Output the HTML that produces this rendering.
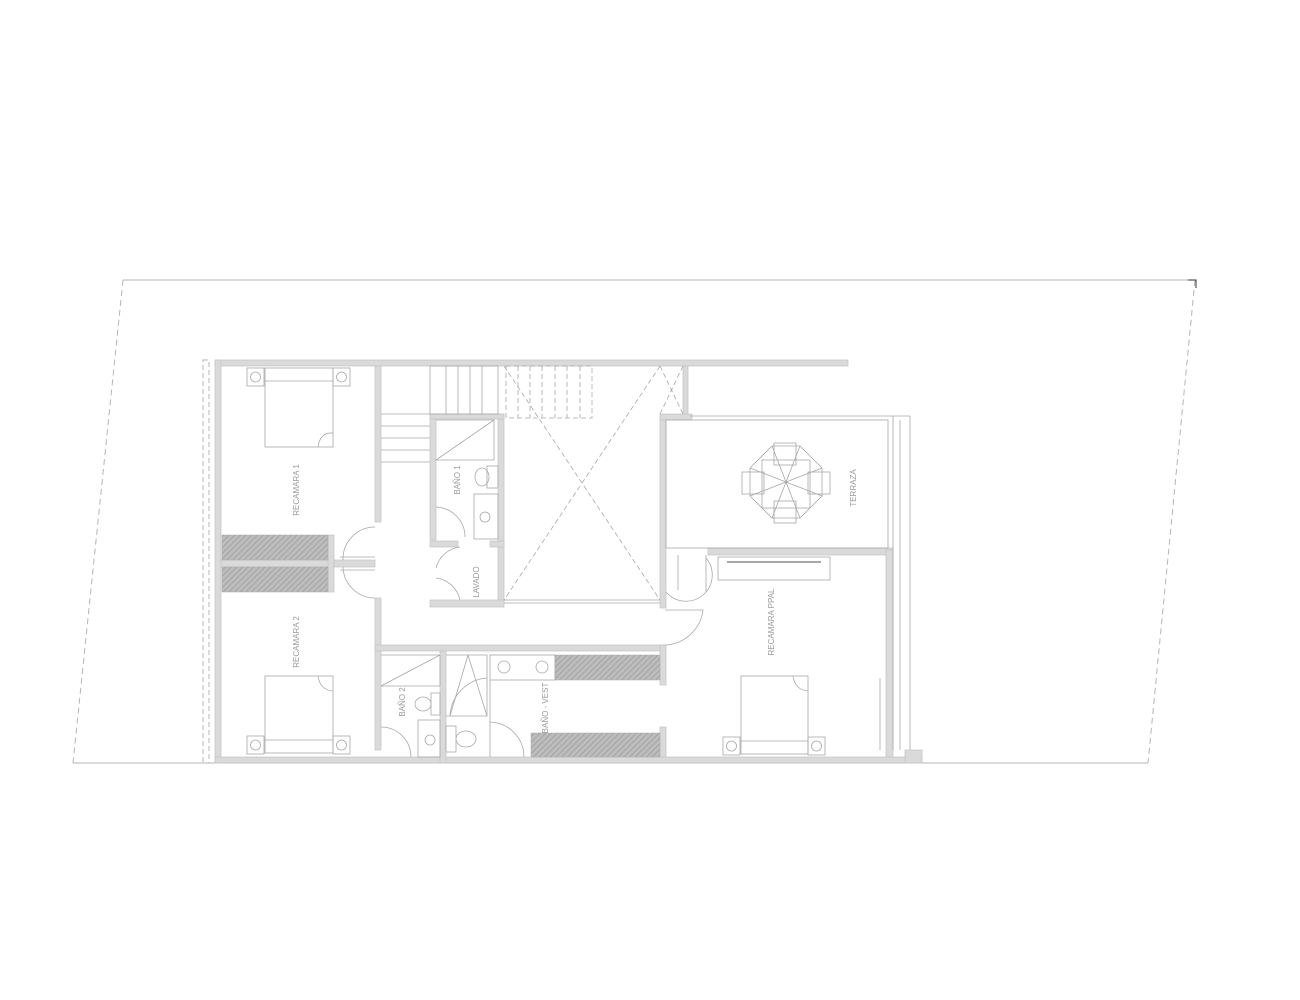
<!DOCTYPE html>
<html><head><meta charset="utf-8"><style>
html,body{margin:0;padding:0;background:#fff;}
svg{display:block}
text{font-family:"Liberation Sans",sans-serif;font-size:8px;fill:#9a9a9a;}
</style></head><body>
<svg width="1300" height="1000" viewBox="0 0 1300 1000" xmlns="http://www.w3.org/2000/svg">
<defs>
<pattern id="h" width="4" height="4" patternUnits="userSpaceOnUse" patternTransform="rotate(45)">
<rect width="4" height="4" fill="#bdbdbd"/><line x1="0" y1="0" x2="0" y2="4" stroke="#9a9a9a" stroke-width="1.5"/>
</pattern>
</defs>
<!-- property -->
<g stroke="#b5b5b5" fill="none" stroke-width="1">
<line x1="123" y1="280" x2="1195" y2="280"/>
<line x1="73" y1="763" x2="1148" y2="763"/>
<line x1="123" y1="280" x2="73" y2="763" stroke-dasharray="6,4"/>
<line x1="1195" y1="280" x2="1148" y2="763" stroke-dasharray="6,4"/>
<polyline points="1188,280 1196,280 1196,288" stroke="#333"/>
<rect x="203" y="360" width="6" height="403" stroke-dasharray="5,3"/>
</g>
<!-- walls -->
<g fill="#dadada" stroke="#c4c4c4" stroke-width="0.7">
<rect x="215" y="360" width="633" height="6"/>
<rect x="215" y="360" width="6" height="403"/>
<rect x="215" y="757" width="707" height="6"/>
<rect x="375" y="366" width="6" height="156"/>
<rect x="375" y="598" width="6" height="152"/>
<rect x="221" y="560" width="154" height="7"/>
<rect x="328" y="535" width="6" height="57"/>
<rect x="430" y="414" width="6" height="126"/>
<rect x="498" y="414" width="6" height="190"/>
<rect x="430" y="414" width="74" height="5"/>
<rect x="430" y="541" width="28" height="6"/>
<rect x="490" y="541" width="14" height="6"/>
<rect x="430" y="600" width="74" height="7"/>
<rect x="660" y="416" width="6" height="192"/>
<rect x="683" y="366" width="5" height="48"/>
<rect x="660" y="414" width="32" height="6"/>
<rect x="708" y="548" width="185" height="7"/>
<rect x="886" y="550" width="7" height="207"/>
<rect x="375" y="645" width="290" height="6"/>
<rect x="440" y="651" width="6" height="112"/>
<rect x="660" y="645" width="6" height="40"/>
<rect x="660" y="727" width="6" height="30"/>
<rect x="905" y="750" width="17" height="13"/>
</g>
<!-- hatched closets -->
<g fill="url(#h)" stroke="#aaa" stroke-width="0.5">
<rect x="222" y="535" width="106" height="25"/>
<rect x="222" y="567" width="106" height="25"/>
<rect x="555" y="655" width="105" height="25"/>
<rect x="531" y="733" width="129" height="24"/>
</g>
<g stroke="#a8a8a8" fill="none" stroke-width="0.8">
<!-- stairs -->
<rect x="430" y="366" width="68" height="48"/>
<line x1="446" y1="366" x2="446" y2="414"/><line x1="458" y1="366" x2="458" y2="414"/>
<line x1="470" y1="366" x2="470" y2="414"/><line x1="482" y1="366" x2="482" y2="414"/>
<line x1="381" y1="414" x2="430" y2="414"/><line x1="381" y1="426" x2="430" y2="426"/>
<line x1="381" y1="438" x2="430" y2="438"/><line x1="381" y1="450" x2="430" y2="450"/>
<line x1="381" y1="462" x2="430" y2="462"/>
<g stroke-dasharray="5,3">
<rect x="506" y="366" width="86" height="52"/>
<line x1="518" y1="366" x2="518" y2="418"/><line x1="530" y1="366" x2="530" y2="418"/>
<line x1="542" y1="366" x2="542" y2="418"/><line x1="555" y1="366" x2="555" y2="418"/>
<line x1="567" y1="366" x2="567" y2="418"/><line x1="580" y1="366" x2="580" y2="418"/>
<line x1="504" y1="366" x2="660" y2="600"/><line x1="660" y1="366" x2="504" y2="600"/>
<line x1="660" y1="366" x2="683" y2="414"/><line x1="683" y1="366" x2="660" y2="414"/>
</g>
<line x1="504" y1="600" x2="660" y2="600"/><line x1="504" y1="603" x2="660" y2="603"/>
<!-- terrace -->
<rect x="666" y="420" width="222" height="128"/>
<line x1="690" y1="416" x2="910" y2="416"/>
<line x1="893" y1="416" x2="893" y2="750"/><line x1="900" y1="420" x2="900" y2="750"/><line x1="910" y1="416" x2="910" y2="750"/>
<line x1="880" y1="678" x2="880" y2="750"/>
<!-- beds -->
<rect x="265" y="368" width="68" height="79"/><line x1="265" y1="381" x2="333" y2="381"/>
<rect x="247" y="368" width="17" height="18"/><rect x="333" y="368" width="17" height="18"/>
<circle cx="255.5" cy="377" r="5"/><circle cx="341.5" cy="377" r="5"/>
<path d="M318 447 Q320 432 333 433"/>
<rect x="265" y="676" width="68" height="77"/><line x1="265" y1="740" x2="333" y2="740"/>
<rect x="247" y="736" width="17" height="18"/><rect x="333" y="736" width="17" height="18"/>
<circle cx="255.5" cy="745" r="5"/><circle cx="341.5" cy="745" r="5"/>
<path d="M318 676 Q320 690 333 691"/>
<rect x="741" y="676" width="67" height="78"/><line x1="741" y1="741" x2="808" y2="741"/>
<rect x="723" y="737" width="17" height="18"/><rect x="808" y="737" width="17" height="18"/>
<circle cx="731.5" cy="746" r="5"/><circle cx="816.5" cy="746" r="5"/>
<path d="M793 676 Q795 690 808 691"/>
<!-- desk -->
<rect x="718" y="557" width="112" height="23"/><line x1="727" y1="562" x2="821" y2="562" stroke-width="2"/>
<!-- terrace table -->
<polygon points="772,446 800,446 822,468 822,496 800,518 772,518 750,496 750,468"/>
<rect x="762" y="460" width="48" height="48"/>
<line x1="750" y1="468" x2="822" y2="496"/><line x1="750" y1="496" x2="822" y2="468"/>
<line x1="772" y1="446" x2="800" y2="518"/><line x1="800" y1="446" x2="772" y2="518"/>
<rect x="774" y="443" width="22" height="22"/><rect x="774" y="501" width="22" height="22"/>
<rect x="742" y="472" width="22" height="22"/><rect x="808" y="472" width="22" height="22"/>
<!-- baño 1 -->
<polyline points="436,420 494,420 436,460 494,460"/><line x1="494" y1="420" x2="494" y2="460"/>
<rect x="487" y="466" width="11" height="22"/><ellipse cx="482" cy="477" rx="7" ry="9"/>
<rect x="474" y="494" width="24" height="45"/><circle cx="485" cy="517" r="5"/>
<path d="M436 507 A30 30 0 0 1 465 537"/><path d="M436 568 A28 28 0 0 1 460 547"/>
<path d="M436 578 A28 28 0 0 1 460 600"/>
<!-- hall doors -->
<path d="M375 527 A32 32 0 0 0 343 560"/><path d="M343 567 A32 32 0 0 0 375 598"/>
<line x1="340" y1="557" x2="375" y2="557"/><line x1="340" y1="570" x2="375" y2="570"/>
<path d="M666 592 A22 22 0 0 0 706 558"/><line x1="706" y1="555" x2="706" y2="592"/>
<path d="M665 610 L703 610 A40 40 0 0 1 665 645"/>
<!-- baño 2 -->
<polyline points="381,655 440,655 381,686 440,686"/><line x1="440" y1="655" x2="440" y2="686"/>
<rect x="431" y="693" width="9" height="22"/><ellipse cx="423" cy="704" rx="8" ry="7"/>
<rect x="418" y="720" width="22" height="37"/><circle cx="430" cy="740" r="5"/>
<path d="M381 727 A30 30 0 0 1 411 757"/>
<!-- baño vest -->
<polyline points="446,655 487,655 487,716 446,716"/>
<line x1="468" y1="655" x2="450" y2="716"/><line x1="468" y1="655" x2="487" y2="716"/>
<path d="M450 716 A40 40 0 0 1 487 678"/>
<rect x="446" y="726" width="10" height="26"/><ellipse cx="466" cy="739" rx="10" ry="8"/>
<rect x="490" y="655" width="65" height="25"/><circle cx="504" cy="667" r="6"/><circle cx="542" cy="667" r="6"/>
<line x1="490" y1="680" x2="490" y2="757"/>
<path d="M490 722 A35 35 0 0 1 524 757"/>
<line x1="678" y1="555" x2="678" y2="590"/>
</g>
<!-- labels -->
<g>
<text transform="translate(299,490) rotate(-90)" text-anchor="middle">RECAMARA 1</text>
<text transform="translate(299,642) rotate(-90)" text-anchor="middle">RECAMARA 2</text>
<text transform="translate(460,480) rotate(-90)" text-anchor="middle">BAÑO 1</text>
<text transform="translate(479,582) rotate(-90)" text-anchor="middle">LAVADO</text>
<text transform="translate(405,702) rotate(-90)" text-anchor="middle">BAÑO 2</text>
<text transform="translate(548,708) rotate(-90)" text-anchor="middle">BAÑO - VEST</text>
<text transform="translate(774,622) rotate(-90)" text-anchor="middle">RECAMARA PPAL</text>
<text transform="translate(856,488) rotate(-90)" text-anchor="middle">TERRAZA</text>
</g>
</svg>
</body></html>
